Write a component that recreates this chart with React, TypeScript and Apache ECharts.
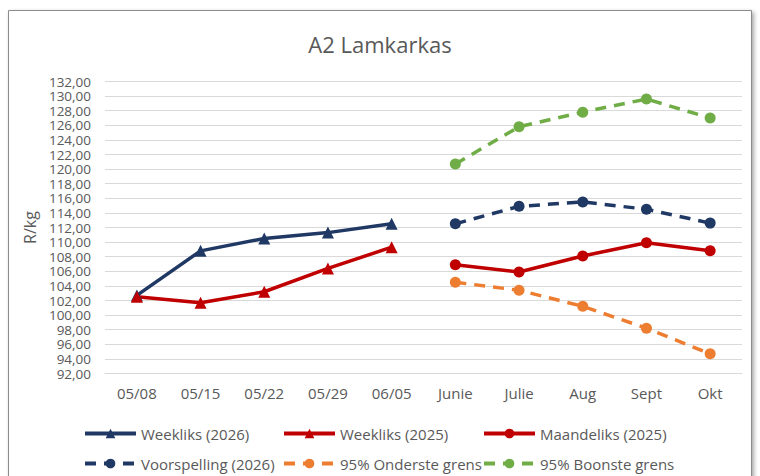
import React, { useEffect, useRef } from "react";
import * as echarts from "echarts";

const categories = ["05/08", "05/15", "05/22", "05/29", "06/05", "Junie", "Julie", "Aug", "Sept", "Okt"];
const weekly2026 = [102.7, 108.8, 110.5, 111.3, 112.5];
const weekly2025 = [102.5, 101.7, 103.2, 106.4, 109.3];
const monthly2025 = [106.9, 105.9, 108.1, 109.9, 108.8];
const forecast2026 = [112.5, 114.9, 115.5, 114.5, 112.6];
const lower95 = [104.5, 103.4, 101.2, 98.2, 94.7];
const upper95 = [120.7, 125.8, 127.8, 129.6, 127.0];
const seriesNames = [
  "Weekliks (2026)",
  "Weekliks (2025)",
  "Maandeliks (2025)",
  "Voorspelling (2026)",
  "95% Onderste grens",
  "95% Boonste grens",
];

const NAVY = "#203864";
const RED = "#C00000";
const ORANGE = "#ED7D31";
const GREEN = "#70AD47";
const TEXT = "#595959";
const FONT = "'Open Sans', sans-serif";

const pad = (n: number) => Array(n).fill(null);

export default function App() {
  const ref = useRef<HTMLDivElement>(null);
  useEffect(() => {
    if (!ref.current) return;
    const chart = echarts.init(ref.current, undefined, { renderer: "svg" });
    const weekly = (name: string, data: number[], color: string) => ({
      name,
      type: "line",
      data: [...data, ...pad(5)],
      symbol: "triangle",
      symbolSize: 12,
      itemStyle: { color },
      lineStyle: { color, width: 3.5 },
    });
    const monthly = (name: string, data: number[], color: string, dashed: boolean) => ({
      name,
      type: "line",
      data: [...pad(5), ...data],
      symbol: "circle",
      symbolSize: 11,
      itemStyle: { color },
      lineStyle: { color, width: 3.5, type: dashed ? [11, 8] : "solid" },
    });
    const legendPos = [
      [83, 426],
      [282, 426],
      [482, 426],
      [83, 456],
      [282, 456],
      [482, 456],
    ];
    chart.setOption({
      animation: false,
      backgroundColor: "transparent",
      textStyle: { fontFamily: FONT },
      graphic: {
        elements: [
          {
            type: "rect",
            z: -10,
            silent: true,
            shape: { x: 8.5, y: 10.5, width: 743, height: 480 },
            style: {
              fill: "#ffffff",
              stroke: "#8c8c8c",
              lineWidth: 1,
              shadowBlur: 4,
              shadowColor: "rgba(0,0,0,0.35)",
              shadowOffsetX: 2,
              shadowOffsetY: 2,
            },
          },
        ],
      },
      title: {
        text: "A2 Lamkarkas",
        left: "center",
        top: 28,
        textStyle: { fontFamily: FONT, fontSize: 22, fontWeight: "normal", color: TEXT },
      },
      legend: seriesNames.map((n, i) => ({
        data: [n],
        left: legendPos[i][0],
        top: legendPos[i][1],
        itemWidth: 51,
        itemHeight: 12,
        padding: 0,
        lineStyle: { width: 4 },
        textStyle: { fontFamily: FONT, fontSize: 15, color: TEXT },
      })),
      grid: { left: 105, top: 81.5, width: 637, height: 292, containLabel: false },
      xAxis: {
        type: "category",
        data: categories,
        boundaryGap: true,
        axisTick: { show: false },
        axisLine: { show: true, lineStyle: { color: "#D9D9D9", width: 1 } },
        axisLabel: { color: TEXT, fontFamily: FONT, fontSize: 15, margin: 12 },
      },
      yAxis: {
        type: "value",
        min: 92,
        max: 132,
        interval: 2,
        name: "R/kg",
        nameLocation: "middle",
        nameRotate: 90,
        nameGap: 64,
        nameTextStyle: { color: TEXT, fontFamily: FONT, fontSize: 16 },
        axisLine: { show: false },
        axisTick: { show: false },
        splitLine: { lineStyle: { color: "#D9D9D9", width: 1 } },
        axisLabel: {
          color: TEXT,
          fontFamily: FONT,
          fontSize: 13.5,
          lineHeight: 12,
          margin: 14,
          showMinLabel: true,
          showMaxLabel: true,
          hideOverlap: false,
          formatter: (v: number) => v.toFixed(2).replace(".", ","),
        },
      },
      series: [
        weekly(seriesNames[0], weekly2026, NAVY),
        weekly(seriesNames[1], weekly2025, RED),
        monthly(seriesNames[2], monthly2025, RED, false),
        monthly(seriesNames[3], forecast2026, NAVY, true),
        monthly(seriesNames[4], lower95, ORANGE, true),
        monthly(seriesNames[5], upper95, GREEN, true),
      ],
    });
    return () => chart.dispose();
  }, []);
  return (
    <div
      ref={ref}
      style={{ position: "absolute", left: 0, top: 0, width: 760, height: 476 }}
    />
  );
}
